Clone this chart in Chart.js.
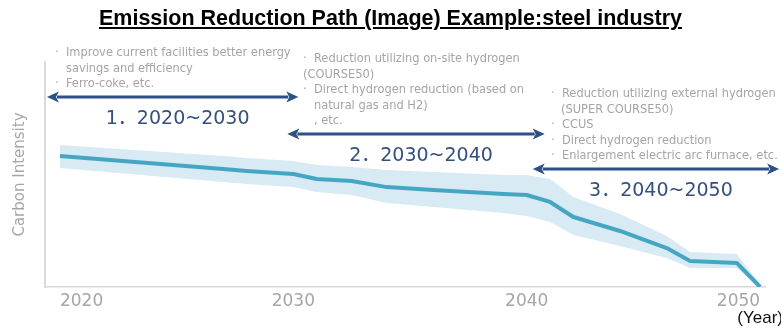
<!DOCTYPE html>
<html>
<head>
<meta charset="utf-8">
<script src="https://cdn.jsdelivr.net/npm/chart.js@4.4.1/dist/chart.umd.min.js"></script>
<style>
  html, body { margin: 0; padding: 0; background: #fff; }
  #wrap { position: relative; width: 781px; height: 328px; overflow: hidden; }
  #c { position: absolute; left: 0; top: 0; }
  #title {
    position: absolute; left: 0; top: 6px; width: 781px; text-align: center;
    font: bold 21.5px 'Liberation Sans', Arial, sans-serif;
    color: #000; text-decoration: underline; text-decoration-thickness: 2px;
    text-underline-offset: 2px; white-space: nowrap;
  }
</style>
</head>
<body>
<div id="wrap">
  <canvas id="c" width="781" height="328"></canvas>
  <div id="title">Emission Reduction Path (Image) Example:steel industry</div>
</div>
<script>
// Carbon intensity path (index, 0 = zero emissions) with its uncertainty range
const years      = [2020, 2027, 2028, 2030, 2031, 2032.5, 2034, 2036, 2039, 2040, 2041, 2042, 2044, 2046, 2047, 2049, 2050];
const intensity  = [58.2, 52.4, 51.6, 50.2, 48.0, 47.1, 44.4, 43.1, 41.3, 40.9, 37.8, 31.1, 24.9, 17.3, 11.6, 10.7, 0];
const rangeHigh  = [63.1, 58.2, 57.3, 56.0, 54.2, 53.3, 52.0, 51.1, 49.8, 49.8, 48.0, 40.0, 32.4, 22.7, 15.6, 14.7, 1.3];
const rangeLow   = [52.9, 46.7, 45.8, 44.4, 42.2, 40.9, 37.3, 35.6, 32.9, 31.6, 28.9, 23.1, 18.2, 12.9, 8.4, 8.4, 0];
const tickYears  = [2020, 2030, 2040, 2050];

// Phases of the reduction path
const phaseLabels = ['1．2020~2030', '2．2030~2040', '3．2040~2050'];
const phaseSpans  = [[2020, 2030], [2030, 2040], [2040, 2050]];
const phaseMeasures = [
  ['· Improve current facilities better energy', 'savings and efficiency', '· Ferro-coke, etc.'],
  ['· Reduction utilizing on-site hydrogen', '(COURSE50)', '· Direct hydrogen reduction (based on', 'natural gas and H2)', ', etc.'],
  ['· Reduction utilizing external hydrogen', '(SUPER COURSE50)', '· CCUS', '· Direct hydrogen reduction', '· Enlargement electric arc furnace, etc.']
];

// Drawing layout for each phase: arrow ends (px beyond span), arrow level (y value), text column
const phaseLayout = [
  { left: -13, right: 5,  level: 84.4, textX: 55 },
  { left: -6,  right: 18, level: 68.0, textX: 303 },
  { left: 6,   right: 19, level: 52.4, textX: 551 }
];

const ARROW_COLOR = '#2d5186';
const LABEL_COLOR = '#34507e';
const NOTE_COLOR = '#a5a5a5';

function drawArrow(ctx, x1, x2, y) {
  const hl = 12, hw = 5.5;
  ctx.strokeStyle = ARROW_COLOR;
  ctx.fillStyle = ARROW_COLOR;
  ctx.lineWidth = 3;
  ctx.beginPath();
  ctx.moveTo(x1 + hl - 2, y);
  ctx.lineTo(x2 - hl + 2, y);
  ctx.stroke();
  ctx.beginPath();
  ctx.moveTo(x1, y); ctx.lineTo(x1 + hl, y - hw); ctx.lineTo(x1 + hl - 3, y); ctx.lineTo(x1 + hl, y + hw);
  ctx.closePath(); ctx.fill();
  ctx.beginPath();
  ctx.moveTo(x2, y); ctx.lineTo(x2 - hl, y - hw); ctx.lineTo(x2 - hl + 3, y); ctx.lineTo(x2 - hl, y + hw);
  ctx.closePath(); ctx.fill();
}

const phasePlugin = {
  id: 'phases',
  afterDraw(chart) {
    const { ctx, scales: { x, y } } = chart;
    ctx.save();
    phaseSpans.forEach((span, i) => {
      const L = phaseLayout[i];
      const x1 = x.getPixelForValue(span[0]) + L.left;
      const x2 = x.getPixelForValue(span[1]) + L.right;
      const ay = y.getPixelForValue(L.level);
      drawArrow(ctx, x1, x2, ay);

      ctx.fillStyle = LABEL_COLOR;
      ctx.font = '19px "DejaVu Sans", "Noto Sans CJK JP", sans-serif';
      ctx.textAlign = 'center';
      ctx.textBaseline = 'middle';
      ctx.fillText(phaseLabels[i], (x1 + x2) / 2 + 5, ay + 22);

      const lines = phaseMeasures[i];
      ctx.font = '12.7px "DejaVu Sans Condensed", "DejaVu Sans", sans-serif';
      ctx.fillStyle = NOTE_COLOR;
      ctx.textAlign = 'left';
      lines.forEach((t, j) => {
        const ly = ay - 13 - (lines.length - 1 - j) * 15.5;
        if (t.startsWith('· ')) {
          ctx.fillText('·', L.textX, ly);
          ctx.fillText(t.slice(2), L.textX + 11, ly);
        } else if (t.startsWith('(')) {
          ctx.fillText(t, L.textX + (i === 1 ? 0 : 10), ly);
        } else {
          ctx.fillText(t, L.textX + 11, ly);
        }
      });
    });

    // unit of the time axis
    ctx.fillStyle = '#111';
    ctx.font = '17px "Liberation Sans", Arial, sans-serif';
    ctx.textAlign = 'right';
    ctx.textBaseline = 'middle';
    ctx.fillText('(Year)', 783, 318);
    ctx.restore();
  }
};

const pts = arr => years.map((yr, i) => ({ x: yr, y: arr[i] }));

new Chart(document.getElementById('c'), {
  type: 'line',
  data: {
    datasets: [
      { label: 'Carbon Intensity', data: pts(intensity), borderColor: '#45a6c4', borderWidth: 4, pointRadius: 0,
        fill: false, tension: 0, borderJoinStyle: 'round', borderCapStyle: 'butt', order: 0 },
      { label: 'High', data: pts(rangeHigh), borderWidth: 0, pointRadius: 0, fill: '+1',
        backgroundColor: '#d8eaf3', tension: 0, order: 1 },
      { label: 'Low', data: pts(rangeLow), borderWidth: 0, pointRadius: 0, fill: false, tension: 0, order: 2 }
    ]
  },
  options: {
    responsive: false,
    animation: false,
    events: [],
    layout: { padding: { left: 0, right: 16, top: 62, bottom: 0 } },
    plugins: { legend: { display: false }, tooltip: { enabled: false }, title: { display: false } },
    scales: {
      x: {
        type: 'linear', min: 2019.36, max: 2050.21,
        afterBuildTicks: s => { s.ticks = tickYears.map(v => ({ value: v })); },
        afterFit: s => { s.height = 41; },
        grid: { display: false, drawTicks: false },
        border: { display: true, color: '#dadada', width: 1.5 },
        ticks: { align: 'inner', padding: 4, color: '#a6a6a6', autoSkip: false, maxRotation: 0,
                 font: { family: 'DejaVu Sans', size: 17 }, callback: v => String(v) }
      },
      y: {
        min: 0, max: 100,
        afterFit: s => { s.width = 45; },
        grid: { display: false, drawTicks: false },
        border: { display: true, color: '#dadada', width: 2 },
        ticks: { display: false },
        title: { display: true, text: 'Carbon Intensity', color: '#a6a6a6',
                 font: { family: 'DejaVu Sans', size: 15 }, padding: { top: 11, bottom: 0 } }
      }
    }
  },
  plugins: [phasePlugin]
});
</script>
</body>
</html>
